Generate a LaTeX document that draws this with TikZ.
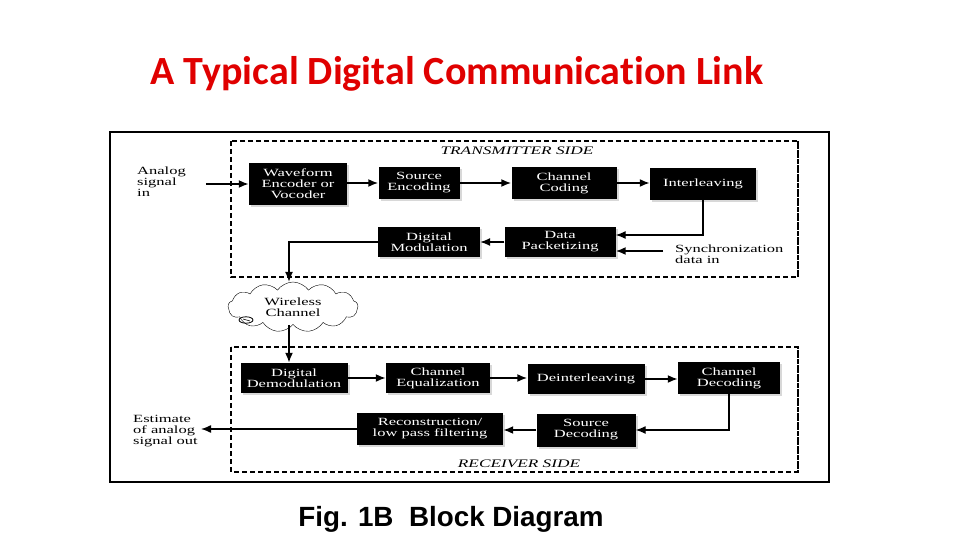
\documentclass[tikz,border=0pt]{standalone}
\usepackage{fontspec}
\setmainfont{Liberation Serif}
\newfontfamily\blockfont[FakeStretch=1.5]{Liberation Serif}
\newfontfamily\titlefont[Ligatures=NoCommon]{Carlito}
\newfontfamily\capfont{Liberation Sans}
\usetikzlibrary{shapes.symbols,arrows.meta,calc,shadows}
\definecolor{titlered}{HTML}{E00000}
\definecolor{shade}{HTML}{D8D8D8}

\begin{document}
\begin{tikzpicture}[x=1pt,y=-1pt,
  font=\blockfont\fontsize{11}{11}\selectfont,
  block/.style={fill=black,text=white,align=center,inner sep=0pt,
                drop shadow={shadow xshift=2pt,shadow yshift=-2pt,fill=shade,opacity=1}},
  lbl/.style={align=left,inner sep=0pt,anchor=north west},
  side/.style={font=\blockfont\itshape\fontsize{11.5}{11.5}\selectfont},
  zone/.style={dashed,dash pattern=on 5pt off 3pt,line width=1.1pt},
  arr/.style={line width=1.8pt,-{Latex[length=10pt,width=8pt]}}]
\useasboundingbox[fill=white] (0,0) rectangle (960,540);

\node[font=\titlefont\bfseries\fontsize{40}{44}\selectfont,text=titlered] (title) at (457,74) {A Typical Digital Communication Link};
\draw[line width=2pt] (110,132) rectangle (829,482);

% transmitter side
\draw[zone] (231,141) rectangle (798,277);
\draw[line width=2.6pt,dash pattern=on 2pt off 1pt] (798,141) -- (798,277);
\node[side] (txside) at (517,151) {TRANSMITTER SIDE};
\node[block,minimum width=98,minimum height=42] (wfenc) at (298,184) {Waveform\\Encoder or\\Vocoder};
\node[block,minimum width=81,minimum height=32] (srcenc) at (419,183) {Source\\Encoding};
\node[block,minimum width=105,minimum height=32] (chcod) at (564,183) {Channel\\Coding};
\node[block,minimum width=106,minimum height=32] (intl) at (703,184) {Interleaving};
\node[block,minimum width=102,minimum height=30] (dmod) at (429,242) {Digital\\Modulation};
\node[block,minimum width=111,minimum height=30] (dpack) at (560,242) {Data\\Packetizing};
\node[lbl] (ain) at (137,167) {Analog\\signal\\in};
\node[lbl] (sync) at (675,245) {Synchronization\\data in};
\coordinate (syncin) at (663,251);

% channel
\node[cloud,draw,cloud puffs=13,cloud puff arc=110,aspect=3,align=center,
      minimum width=130,minimum height=50,inner sep=-1.5pt] (chan) at (293,307) {Wireless\\Channel};
\draw[line width=0.8pt] (246,320) ellipse (7 and 3.2);
\draw[line width=0.6pt] (243,319) -- (250,321);

% receiver side
\draw[zone] (231,347) rectangle (798,472);
\draw[line width=2.6pt,dash pattern=on 2pt off 1pt] (798,347) -- (798,472);
\node[side] (rxside) at (519,464) {RECEIVER SIDE};
\node[block,minimum width=107,minimum height=30] (ddemod) at (294,378) {Digital\\Demodulation};
\node[block,minimum width=104,minimum height=30] (cheq) at (438,378) {Channel\\Equalization};
\node[block,minimum width=117,minimum height=30] (deint) at (586,379) {Deinterleaving};
\node[block,minimum width=102,minimum height=32] (chdec) at (729,378) {Channel\\Decoding};
\node[block,minimum width=146,minimum height=32] (recon) at (430,429) {Reconstruction/\\low pass filtering};
\node[block,minimum width=99,minimum height=33] (srcdec) at (586,430) {Source\\Decoding};
\node[lbl] (est) at (133,415) {Estimate\\of analog\\signal out};

% connectors
\draw[arr,shorten <=20pt] (ain.east |- wfenc.west) -- (wfenc.west);
\draw[arr] (wfenc.east |- srcenc.west) -- (srcenc.west);
\draw[arr] (srcenc.east) -- (chcod.west);
\draw[arr] (chcod.east) -- (chcod.east -| intl.west);
\draw[arr,line width=1.3pt] (intl.south) |- ($(dpack.east)+(0,-7)$);
\draw[arr] (syncin) -- (syncin -| dpack.east);
\draw[arr,line width=1.3pt] (dpack.west) -- (dmod.east);
\draw[arr,line width=1.3pt] (dmod.west) -| ($(chan.north)+(-4,0)$);
\draw[arr] ($(chan.south)+(-4,0)$) -- ($(chan.south |- ddemod.north)+(-4,0)$);
\draw[arr] (ddemod.east) -- (cheq.west);
\draw[arr] (cheq.east) -- (cheq.east -| deint.west);
\draw[arr] (deint.east) -- (deint.east -| chdec.west);
\draw[arr,line width=1.3pt] (chdec.south) |- (srcdec.east);
\draw[arr] (srcdec.west) -- (srcdec.west -| recon.east);
\draw[arr,line width=1.3pt,shorten >=3pt] (recon.west) -- (recon.west -| est.east);

\node[font=\capfont\bfseries\fontsize{27.8}{32}\selectfont] (caption) at (451,519) {Fig. 1B\ \ Block Diagram};
\end{tikzpicture}
\end{document}
